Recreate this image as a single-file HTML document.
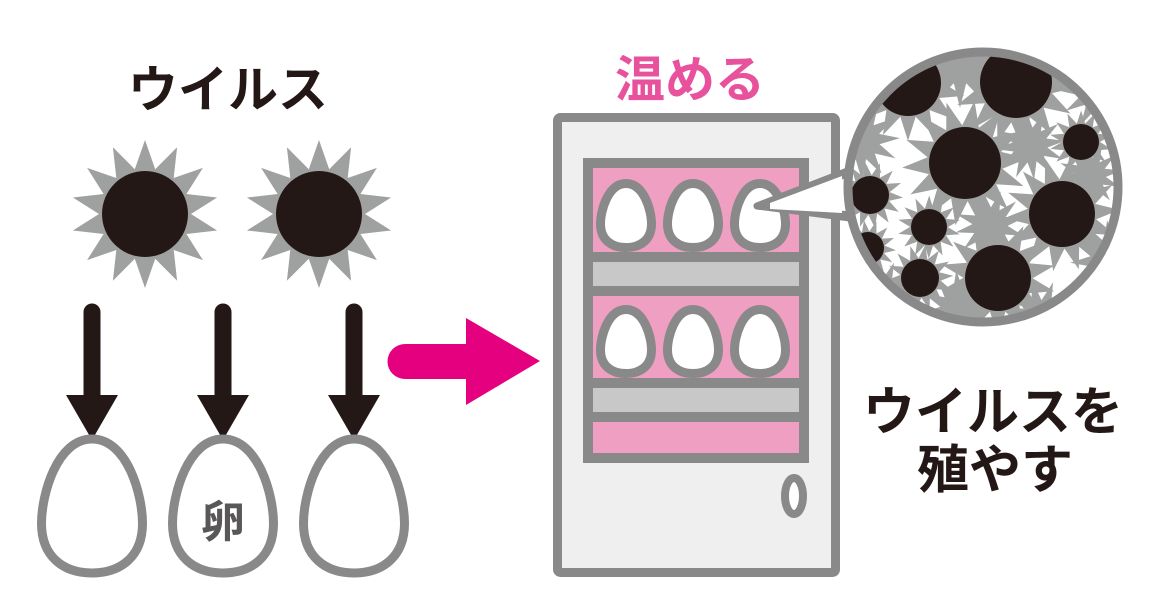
<!DOCTYPE html>
<html><head><meta charset="utf-8"><style>
html,body{margin:0;padding:0;background:#fff;}
svg{display:block}
text{font-family:"Liberation Sans","Noto Sans CJK JP",sans-serif;font-weight:bold}
</style></head><body>
<svg id="s" width="1150" height="611" viewBox="0 0 1150 611" xmlns="http://www.w3.org/2000/svg">
<defs><clipPath id="cc"><circle cx="983" cy="187" r="135"/></clipPath></defs>
<text x="228" y="107" font-size="50" fill="#231815" text-anchor="middle">ウイルス</text>
<text x="690" y="97" font-size="50" fill="#e8529d" text-anchor="middle">温める</text>
<text x="993" y="430" font-size="52" fill="#231815" text-anchor="middle">ウイルスを</text>
<text x="995" y="488" font-size="52" fill="#231815" text-anchor="middle">殖やす</text>
<g id="g"></g>
<path d="M405,344 H466 V318 L540,361 L466,405 V379 H405 A17.5,17.5 0 0 1 405,344 Z" fill="#e4007f"/>
<rect x="557.5" y="117.5" width="278" height="455" rx="3" fill="#eeefee" stroke="#898989" stroke-width="9"/>
<rect x="588" y="163" width="216" height="295" fill="#ee9fc2" stroke="#898989" stroke-width="10"/>
<rect x="588" y="257" width="216" height="34" fill="#c8c8c8" stroke="#898989" stroke-width="10"/>
<rect x="588" y="383" width="216" height="34" fill="#c8c8c8" stroke="#898989" stroke-width="10"/>
<ellipse cx="794" cy="496" rx="9" ry="18" fill="#fff" stroke="#898989" stroke-width="8"/>
<text x="223" y="537" font-size="44" fill="#595757" text-anchor="middle">卵</text>
</svg>
<script>
var NS="http://www.w3.org/2000/svg",g=document.getElementById('g');
function el(t,a,p){var e=document.createElementNS(NS,t);for(var k in a)e.setAttribute(k,a[k]);(p||g).appendChild(e);return e;}
function star(cx,cy,ro,ri,n,rot,fill,p){var pts=[];for(var i=0;i<2*n;i++){var r=i%2?ri:ro,a=rot+Math.PI*i/n-Math.PI/2;pts.push((cx+r*Math.cos(a)).toFixed(1)+','+(cy+r*Math.sin(a)).toFixed(1));}el('polygon',{points:pts.join(' '),fill:fill},p);}
function egg(cx,top,w,h,sw,fill){var b=top+h,hw=w/2;
var d='M'+cx+','+top+' C'+(cx+w*0.35)+','+top+' '+(cx+hw)+','+(top+h*0.42)+' '+(cx+hw)+','+(top+h*0.63)+' C'+(cx+hw)+','+(top+h*0.88)+' '+(cx+w*0.28)+','+b+' '+cx+','+b+' C'+(cx-w*0.28)+','+b+' '+(cx-hw)+','+(top+h*0.88)+' '+(cx-hw)+','+(top+h*0.63)+' C'+(cx-hw)+','+(top+h*0.42)+' '+(cx-w*0.35)+','+top+' '+cx+','+top+' Z';
el('path',{d:d,fill:fill,stroke:'#898989','stroke-width':sw});}
[[145,214],[319,214]].forEach(function(c){star(c[0],c[1],74,46,14,0,'#9fa0a0');el('circle',{cx:c[0],cy:c[1],r:43,fill:'#231815'});});
[92,223,354].forEach(function(x){
 el('path',{d:'M'+(x-8.5)+',395 V312 A8.5,8.5 0 0 1 '+(x+8.5)+',312 V395 H'+(x+26)+' L'+x+',440 L'+(x-26)+',395 Z',fill:'#231815'});
 egg(x,439,101,134,9,'#fff');
});
var s=document.getElementById('s');
[[179],[305]].forEach(function(r){[626,693,760].forEach(function(x){
 var sv=g;g=s;egg(x,r[0]+4.5,51,64,9,'#fff');g=sv;});});
var mg=el('g',{},s);
el('path',{d:'M757,206 L850,170 L850,218 Z',fill:'#fff',stroke:'#898989','stroke-width':7,'stroke-linejoin':'round'},mg);
el('circle',{cx:983,cy:187,r:135,fill:'#fff'},mg);
var cl=el('g',{'clip-path':'url(#cc)'},mg);
var vs=[[908,83,33],[1016,82,36],[965,163,36],[1081,142,18],[870,195,19],[1062,214,33],[929,227,18],[868,248,16],[920,278,19],[998,278,33]];
vs.forEach(function(v,i){star(v[0],v[1],v[2]*1.75,v[2]*1.05,14,i*0.3,'#9fa0a0',cl);});
[[960,60,30],[1100,90,25],[860,140,25],[1110,260,25],[960,310,25],[1030,145,22],[1090,175,20],[880,300,25],[1040,320,25],[990,225,22]].forEach(function(v,i){star(v[0],v[1],v[2]*1.6,v[2]*0.8,12,i*0.5,'#9fa0a0',cl);});
vs.forEach(function(v){el('circle',{cx:v[0],cy:v[1],r:v[2],fill:'#231815'},cl);});
el('circle',{cx:983,cy:187,r:135,fill:'none',stroke:'#898989','stroke-width':9},mg);
el('path',{d:'M850,173 L757,206 L850,215',fill:'none',stroke:'#898989','stroke-width':7,'stroke-linejoin':'round'},mg);
el('path',{d:'M842,176 L770,203 L770,209 L842,213 Z',fill:'#fff'},mg);
</script>
</body></html>
